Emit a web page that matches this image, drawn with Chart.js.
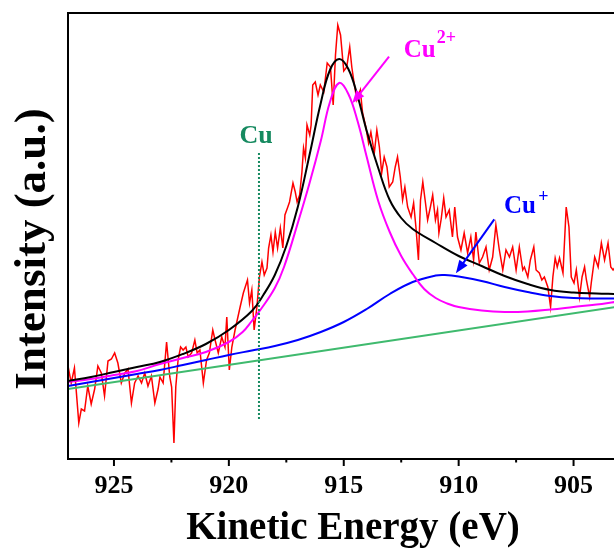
<!DOCTYPE html>
<html>
<head>
<meta charset="utf-8">
<script src="https://cdn.jsdelivr.net/npm/chart.js@4/dist/chart.umd.min.js"></script>
<style>
  body { margin: 0; background: #fff; }
  #wrap { width: 614px; height: 552px; position: relative; }
</style>
</head>
<body>
<div id="wrap"><canvas id="xps"></canvas></div>
<script>
// raw spectrum (kinetic energy in eV, intensity in a.u.)
var rawEnergy = [927.0, 926.86, 926.72, 926.53, 926.42, 926.28, 926.14, 925.99, 925.84, 925.70, 925.55, 925.41, 925.26, 925.11, 924.97, 924.83, 924.68, 924.53, 924.39, 924.24, 924.10, 923.95, 923.80, 923.66, 923.52, 923.37, 923.22, 923.08, 923.00, 922.86, 922.71, 922.57, 922.49, 922.39, 922.31, 922.21, 922.10, 921.99, 921.87, 921.77, 921.62, 921.48, 921.38, 921.26, 921.11, 920.97, 920.85, 920.70, 920.60, 920.46, 920.31, 920.17, 920.09, 919.98, 919.87, 919.73, 919.51, 919.37, 919.19, 919.10, 919.00, 918.90, 918.78, 918.67, 918.56, 918.46, 918.34, 918.27, 918.17, 918.08, 917.98, 917.88, 917.76, 917.65, 917.56, 917.45, 917.36, 917.21, 917.11, 917.03, 916.92, 916.82, 916.75, 916.67, 916.60, 916.48, 916.42, 916.35, 916.24, 916.12, 916.02, 915.87, 915.72, 915.58, 915.46, 915.36, 915.26, 915.14, 915.00, 914.87, 914.74, 914.65, 914.55, 914.43, 914.28, 914.18, 914.04, 913.92, 913.82, 913.67, 913.56, 913.45, 913.35, 913.24, 913.12, 913.02, 912.87, 912.76, 912.66, 912.54, 912.44, 912.34, 912.22, 912.07, 911.96, 911.86, 911.75, 911.66, 911.56, 911.46, 911.35, 911.23, 911.13, 911.01, 910.92, 910.86, 910.76, 910.65, 910.55, 910.41, 910.27, 910.17, 910.05, 909.90, 909.76, 909.61, 909.47, 909.35, 909.25, 909.10, 908.96, 908.81, 908.67, 908.52, 908.38, 908.23, 908.08, 907.94, 907.79, 907.65, 907.50, 907.36, 907.21, 907.14, 906.99, 906.88, 906.73, 906.63, 906.49, 906.38, 906.27, 906.12, 906.00, 905.90, 905.80, 905.71, 905.61, 905.46, 905.32, 905.20, 905.10, 904.98, 904.88, 904.74, 904.63, 904.52, 904.44, 904.30, 904.23, 904.08, 903.93, 903.79, 903.65, 903.50, 903.38, 903.28, 903.18];
var rawCounts = [93, 76, 91, 36, 50, 48, 73, 55, 70, 93, 86, 63, 98, 100, 106, 96, 76, 86, 90, 56, 76, 83, 76, 86, 73, 83, 56, 70, 82, 76, 117, 82, 72, 16, 72, 99, 112, 109, 112, 102, 106, 119, 106, 109, 76, 99, 106, 129, 119, 106, 122, 112, 142, 89, 112, 129, 152, 166, 179, 156, 169, 129, 152, 182, 197, 184, 191, 211, 224, 207, 227, 211, 231, 211, 244, 251, 257, 276, 267, 257, 264, 287, 311, 301, 334, 324, 334, 374, 377, 364, 374, 367, 396, 392, 354, 404, 434, 424, 388, 392, 412, 392, 376, 359, 369, 346, 332, 316, 327, 306, 329, 312, 286, 302, 292, 272, 277, 292, 302, 282, 259, 272, 252, 242, 256, 232, 199, 259, 277, 259, 239, 252, 264, 239, 249, 226, 240, 261, 242, 249, 222, 252, 222, 209, 226, 206, 222, 199, 227, 196, 202, 212, 189, 202, 234, 209, 189, 209, 202, 212, 189, 212, 189, 192, 182, 199, 212, 189, 186, 179, 182, 172, 152, 182, 201, 192, 201, 186, 252, 232, 182, 176, 189, 162, 182, 192, 179, 162, 176, 202, 192, 216, 199, 216, 192, 189, 192];

// fitted envelope
var fitEnergy = [927, 926, 925, 924, 923, 922, 921, 920, 919, 918.5, 918, 917.5, 917, 916.5, 916, 915.6, 915.2, 914.8, 914.4, 914, 913.5, 913, 912.5, 912, 911, 910, 909, 908, 907, 906, 905, 904, 903.2];
var fitCounts = [78, 82, 87, 92, 97, 105, 115, 129, 148, 164, 184, 213, 252, 303, 356, 389, 400, 390, 363, 328, 291, 259, 241, 230, 216, 203, 193, 183, 175, 169, 166.5, 165.5, 165];

// Cu2+ component
var cu2Energy = [927, 926, 925, 924, 923, 922, 921, 920, 919.4, 919, 918.6, 918, 917.6, 917, 916.5, 916, 915.6, 915.2, 914.8, 914.4, 914, 913.5, 913, 912.5, 912, 911.5, 911, 910.5, 910, 909, 908, 907, 906, 905, 904, 903.2];
var cu2Counts = [77, 80, 84, 88, 95, 101, 107, 117, 127, 138, 150, 171, 192, 236, 275, 318, 357, 376, 365, 338, 302, 258, 227, 203, 185, 170, 161, 155.5, 152, 148.5, 147, 147.5, 149.5, 152, 154.5, 157];

// Cu+ component
var cu1Energy = [927, 926, 925, 924, 923, 922, 921, 920, 919, 918, 917, 916, 915, 914, 913, 912, 911, 910.6, 910, 909, 908, 907, 906, 905, 904, 903.2];
var cu1Counts = [73, 77, 81, 85, 89, 94, 99, 104, 108.5, 113, 119, 127, 137, 150, 165, 177, 183.5, 184, 182.5, 178, 172, 167, 163, 161, 160.5, 160.5];

// background
var bgEnergy = [927, 903.2];
var bgCounts = [70, 152];

// metallic Cu marker
var cuLineEnergy = [918.69, 918.69];
var cuLineCounts = [40, 306];

var xTicks = [905, 910, 915, 920, 925];
var xMinorTicks = [907.5, 912.5, 917.5, 922.5];
var xMin = 903.24;
var xMax = 927;

var SERIF = '"Liberation Serif", "Times New Roman", serif';

function toPoints(xs, ys) {
    return xs.map(function (x, i) { return { x: x, y: ys[i] }; });
}

function drawArrow(ctx, x1, y1, x2, y2, color) {
    var ang = Math.atan2(y2 - y1, x2 - x1);
    var len = 13, half = 5;
    ctx.strokeStyle = color;
    ctx.fillStyle = color;
    ctx.lineWidth = 2;
    ctx.beginPath();
    ctx.moveTo(x1, y1);
    ctx.lineTo(x2 - Math.cos(ang) * len * 0.8, y2 - Math.sin(ang) * len * 0.8);
    ctx.stroke();
    ctx.beginPath();
    ctx.moveTo(x2, y2);
    ctx.lineTo(x2 - Math.cos(ang) * len + Math.sin(ang) * half, y2 - Math.sin(ang) * len - Math.cos(ang) * half);
    ctx.lineTo(x2 - Math.cos(ang) * len - Math.sin(ang) * half, y2 - Math.sin(ang) * len + Math.cos(ang) * half);
    ctx.closePath();
    ctx.fill();
}

var decorPlugin = {
    id: 'decor',
    afterDatasetsDraw: function (chart) {
        var ctx = chart.ctx;
        var a = chart.chartArea;
        var xs = chart.scales.x, ys = chart.scales.y;
        ctx.save();

        // frame (no right edge, the plot is cut there)
        ctx.strokeStyle = '#000';
        ctx.lineWidth = 2;
        ctx.beginPath();
        ctx.moveTo(a.right, a.top);
        ctx.lineTo(a.left, a.top);
        ctx.lineTo(a.left, a.bottom);
        ctx.lineTo(a.right, a.bottom);
        ctx.stroke();

        xTicks.forEach(function (v) {
            var px = xs.getPixelForValue(v);
            ctx.beginPath();
            ctx.moveTo(px, a.bottom);
            ctx.lineTo(px, a.bottom + 7);
            ctx.stroke();
        });
        xMinorTicks.forEach(function (v) {
            var px = xs.getPixelForValue(v);
            ctx.beginPath();
            ctx.moveTo(px, a.bottom);
            ctx.lineTo(px, a.bottom + 3.5);
            ctx.stroke();
        });

        // axis titles
        ctx.fillStyle = '#000';
        ctx.font = 'bold 39px ' + SERIF;
        ctx.textAlign = 'center';
        ctx.textBaseline = 'alphabetic';
        ctx.fillText('Kinetic Energy (eV)', 353, 539);

        ctx.save();
        ctx.translate(45, 249);
        ctx.rotate(-Math.PI / 2);
        ctx.font = 'bold 45px ' + SERIF;
        ctx.fillText('Intensity (a.u.)', 0, 0);
        ctx.restore();

        // peak labels
        ctx.fillStyle = '#168a60';
        ctx.font = 'bold 26px ' + SERIF;
        ctx.textAlign = 'center';
        ctx.fillText('Cu', xs.getPixelForValue(918.81), ys.getPixelForValue(316));

        ctx.textAlign = 'left';
        ctx.fillStyle = '#ff00ff';
        ctx.font = 'bold 25px ' + SERIF;
        ctx.fillText('Cu', xs.getPixelForValue(912.39), ys.getPixelForValue(402.5));
        ctx.font = 'bold 18px ' + SERIF;
        ctx.fillText('2+', xs.getPixelForValue(910.95), ys.getPixelForValue(416));

        ctx.fillStyle = '#0000ff';
        ctx.font = 'bold 25px ' + SERIF;
        ctx.fillText('Cu', xs.getPixelForValue(908.03), ys.getPixelForValue(245.7));
        ctx.font = 'bold 18px ' + SERIF;
        ctx.fillText('+', xs.getPixelForValue(906.54), ys.getPixelForValue(257));

        drawArrow(ctx, xs.getPixelForValue(913.03), ys.getPixelForValue(402.3),
            xs.getPixelForValue(914.63), ys.getPixelForValue(355.7), '#ff00ff');
        drawArrow(ctx, xs.getPixelForValue(908.45), ys.getPixelForValue(239.7),
            xs.getPixelForValue(910.12), ys.getPixelForValue(185.7), '#0000ff');

        ctx.restore();
    }
};

function smoothLine(label, xs, ys, color, order) {
    return {
        label: label,
        data: toPoints(xs, ys),
        borderColor: color,
        borderWidth: 2,
        pointRadius: 0,
        fill: false,
        tension: 0.4,
        order: order
    };
}

var ctx = document.getElementById('xps').getContext('2d');
var chart = new Chart(ctx, {
    type: 'line',
    data: {
        datasets: [
            {
                label: 'Raw',
                data: toPoints(rawEnergy, rawCounts),
                borderColor: '#ff0000',
                borderWidth: 1.5,
                pointRadius: 0,
                tension: 0,
                fill: false,
                order: 6
            },
            smoothLine('Background', bgEnergy, bgCounts, '#3fba6e', 5),
            smoothLine('Cu+', cu1Energy, cu1Counts, '#0000ff', 4),
            smoothLine('Cu2+', cu2Energy, cu2Counts, '#ff00ff', 3),
            smoothLine('Fit', fitEnergy, fitCounts, '#000000', 2),
            {
                label: 'Cu',
                data: toPoints(cuLineEnergy, cuLineCounts),
                borderColor: '#168a60',
                borderWidth: 2,
                borderDash: [2, 2],
                pointRadius: 0,
                fill: false,
                order: 1
            }
        ]
    },
    options: {
        responsive: true,
        maintainAspectRatio: false,
        animation: false,
        layout: { padding: { left: 68, top: 13, right: 0, bottom: 0 } },
        plugins: {
            legend: { display: false },
            tooltip: { enabled: false }
        },
        scales: {
            x: {
                type: 'linear',
                reverse: true,
                min: xMin,
                max: xMax,
                afterBuildTicks: function (scale) {
                    scale.ticks = xTicks.map(function (v) { return { value: v }; });
                },
                afterFit: function (scale) { scale.height = 93; },
                grid: { display: false, drawTicks: false },
                border: { display: false },
                ticks: {
                    padding: 12,
                    maxRotation: 0,
                    color: '#000',
                    font: { family: SERIF, size: 26, weight: 'bold' }
                }
            },
            y: {
                display: false,
                min: 0,
                max: 446
            }
        }
    },
    plugins: [decorPlugin]
});
</script>
</body>
</html>
